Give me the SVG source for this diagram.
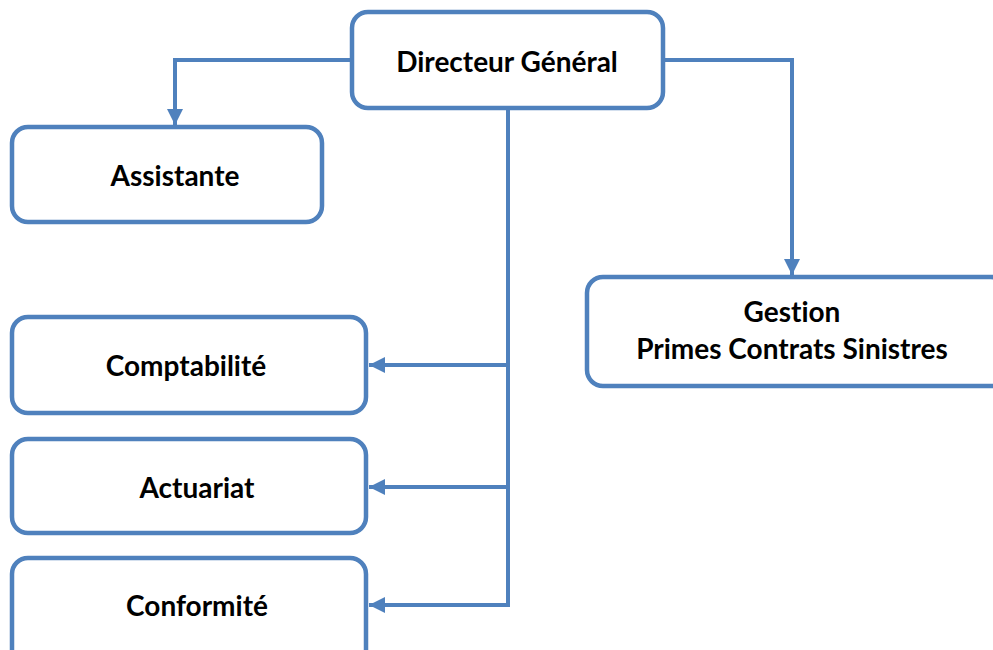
<svg xmlns="http://www.w3.org/2000/svg" width="993" height="650" viewBox="0 0 993 650">
<style>
.box{fill:#fff;stroke:#4F81BD;stroke-width:4.5}
.con{fill:none;stroke:#4F81BD;stroke-width:4}
.t{font-family:Lato,"Open Sans","Liberation Sans",sans-serif;font-weight:bold;font-size:28px;fill:#000;text-anchor:middle;font-variant-ligatures:none}
</style>
<defs>
<marker id="ah" viewBox="0 0 10 10" refX="10" refY="5" markerWidth="4" markerHeight="4" markerUnits="strokeWidth" orient="auto">
<path d="M0,0 L10,5 L0,10 z" fill="#4F81BD"/>
</marker>
</defs>
<g id="connectors">
<path class="con" d="M352,60 H175 V125" marker-end="url(#ah)"/>
<path class="con" d="M663,60 H792 V275" marker-end="url(#ah)"/>
<path class="con" d="M508,108 V605"/>
<path class="con" d="M508,365 H369" marker-end="url(#ah)"/>
<path class="con" d="M508,487 H369" marker-end="url(#ah)"/>
<path class="con" d="M510,605 H369" marker-end="url(#ah)"/>
</g>
<g id="directeur">
<rect class="box" x="352" y="12" width="311" height="96" rx="16"/>
<text class="t" x="507" y="72">Directeur Général</text>
</g>
<g id="assistante">
<rect class="box" x="12" y="127" width="310" height="95" rx="16"/>
<text class="t" x="175" y="186">Assistante</text>
</g>
<g id="gestion">
<rect class="box" x="587" y="277" width="420" height="109" rx="16"/>
<text class="t" x="792" y="322">Gestion</text>
<text class="t" x="792" y="359">Primes Contrats Sinistres</text>
</g>
<g id="comptabilite">
<rect class="box" x="12" y="317" width="354" height="96" rx="16"/>
<text class="t" x="186" y="376">Comptabilité</text>
</g>
<g id="actuariat">
<rect class="box" x="12" y="439" width="354" height="94" rx="16"/>
<text class="t" x="197" y="498">Actuariat</text>
</g>
<g id="conformite">
<rect class="box" x="12" y="558" width="354" height="110" rx="16"/>
<text class="t" x="197" y="616">Conformité</text>
</g>
</svg>
